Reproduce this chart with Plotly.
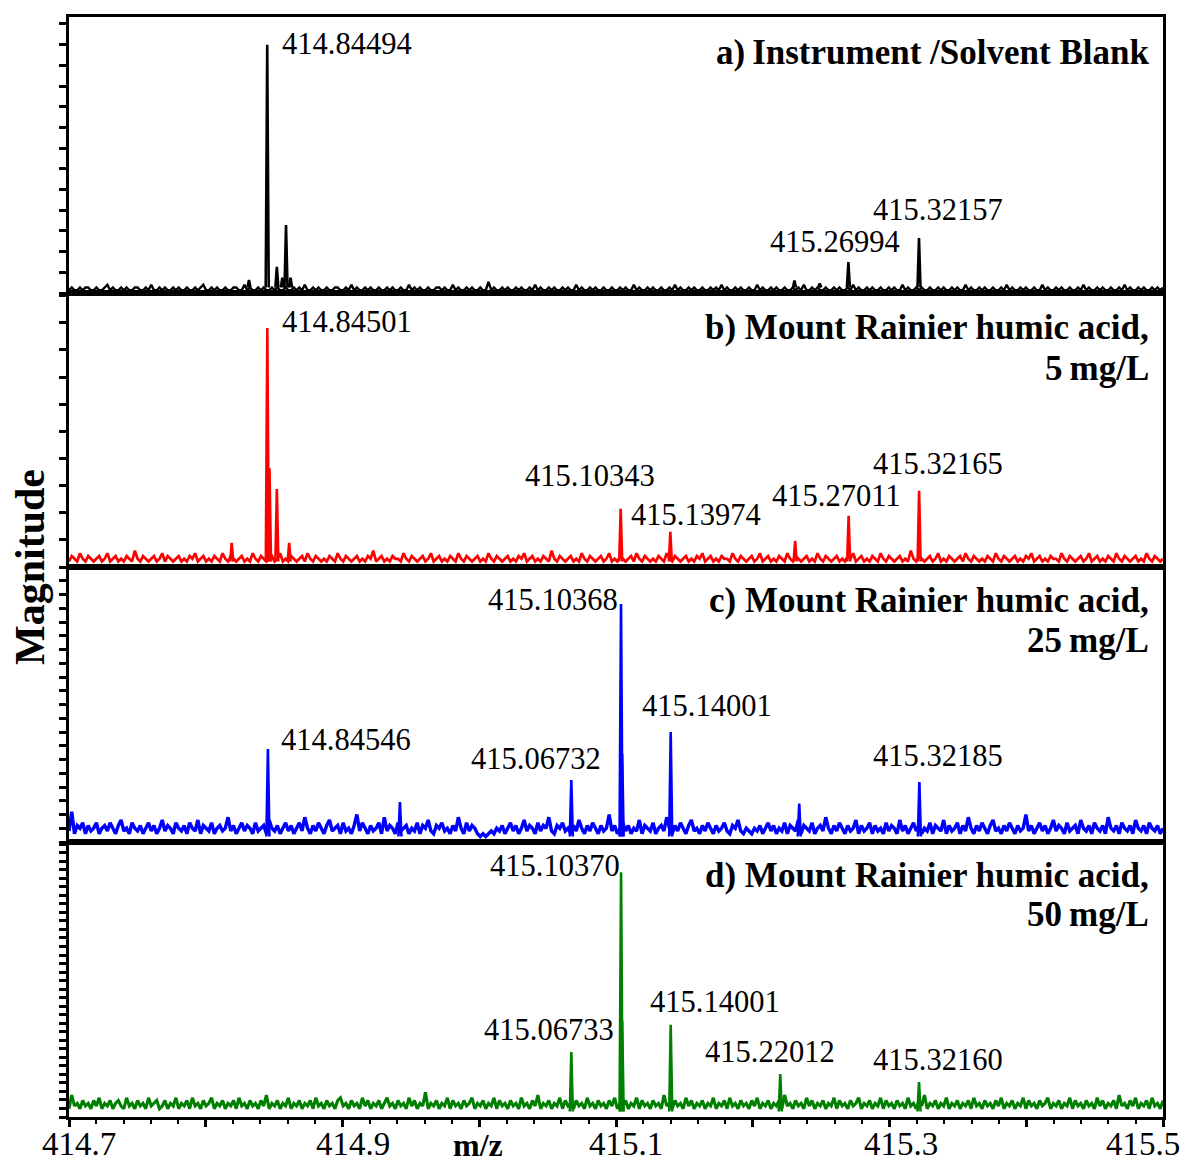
import plotly.graph_objects as go

# ---------------- data ----------------
mz_min, mz_max = 414.7, 415.5
xtick_vals = [414.7, 414.8, 414.9, 415.0, 415.1, 415.2, 415.3, 415.4, 415.5]
xlabel_vals = [414.7, 414.9, 415.1, 415.3, 415.5]
xlabel_text = ["414.7", "414.9", "415.1", "415.3", "415.5"]

panel_titles = [
    ["a)\u2009Instrument /Solvent Blank"],
    ["b) Mount Rainier humic acid,", "5\u2009mg/L"],
    ["c) Mount Rainier humic acid,", "25\u2009mg/L"],
    ["d) Mount Rainier humic acid,", "50\u2009mg/L"],
]

# peaks (m/z, relative magnitude in % of panel height)
a_peak_mz = [414.8316, 414.84494, 414.8520, 414.8560, 414.8587, 414.8620, 415.2305, 415.2490, 415.26994, 415.32157]
a_peak_h = [4.7, 89.9, 9.5, 5.5, 24.6, 5.5, 4.5, 3.5, 11.2, 19.9]
b_peak_mz = [414.8190, 414.84501, 414.8466, 414.8520, 414.8610, 415.10343, 415.13974, 415.2310, 415.27011, 415.32165]
b_peak_h = [8.8, 87.2, 36.0, 28.5, 8.8, 21.2, 12.8, 9.5, 18.7, 27.8]
c_peak_mz = [414.84546, 414.9420, 415.06732, 415.10368, 415.1045, 415.14001, 415.2340, 415.32185]
c_peak_h = [33.8, 14.5, 22.5, 86.5, 32.0, 40.0, 14.0, 21.8]
d_peak_mz = [415.06733, 415.10370, 415.1045, 415.14001, 415.22012, 415.32160]
d_peak_h = [23.6, 89.0, 35.0, 33.5, 15.6, 12.7]

# baseline noise read across the m/z window (% of panel height)
a_noise = [1,2,1,1,2,1,2,2,1,1,2,1,1,2,3,1,2,1,1,2,1,2,1,1,2,2,1,1,2,1,3,1,1,2,1,2,1,1,2,1,
           2,1,1,2,1,1,2,1,2,3,1,1,2,1,2,1,1,2,1,1,2,2,1,1,3,1,2,1,1,2,1,2,1,1,2,1,2,1,1,2,
           1,1,2,1,2,1,3,1,1,2,1,2,1,1,2,1,1,2,2,1,1,2,1,3,1,2,1,1,2,1,2,1,1,2,1,1,2,1,2,1,
           1,2,1,1,3,1,2,1,2,1,1,2,1,1,2,2,1,2,1,1,3,1,2,1,1,2,1,2,1,1,2,1,1,4,1,2,1,1,2,1,
           2,1,1,2,1,2,1,1,2,1,3,1,2,1,1,2,1,2,1,1,2,1,2,1,1,3,1,2,1,1,2,1,2,1,1,2,1,1,2,1,
           1,2,1,2,1,1,3,1,2,1,1,2,1,2,1,1,2,1,1,2,1,3,1,2,1,1,2,1,2,1,1,2,1,1,2,1,2,1,3,1,
           2,1,1,2,1,2,1,1,2,1,1,3,1,2,1,1,2,1,2,1,1,2,1,1,2,1,2,1,3,1,1,2,1,2,1,1,2,1,1,2,
           1,2,1,1,2,1,3,1,2,1,1,2,1,2,1,1,2,1,1,2,1,2,1,1,3,1,2,1,1,2,1,2,1,1,2,1,1,2,1,2,
           1,1,2,1,2,1,1,3,1,2,1,1,2,1,2,1,1,2,1,1,2,1,3,1,2,1,1,2,1,2,1,1,2,1,1,3,1,2,1,1,
           2,1,2,1,1,2,1,1,2,1,3,1,2,1,1,2,1,2,1,1,2,1,1,2,1,3,1,2,1,1,2,1,2,1,1,2,1,2,1,2]
b_noise = [2,4,3,2,5,3,2,4,3,2,3,4,2,3,5,2,3,4,2,3,2,4,3,2,6,3,2,4,3,2,3,4,2,3,5,2,4,3,2,3,
           4,2,3,2,4,3,5,2,3,4,2,3,2,4,3,2,5,3,2,4,3,2,3,4,2,3,2,5,3,2,4,3,2,3,4,2,3,5,2,3,
           2,4,3,2,3,4,2,5,3,2,4,3,2,3,2,4,3,2,5,3,2,4,3,2,3,4,2,3,2,4,3,6,2,3,4,2,3,2,4,3,
           3,2,5,3,2,4,3,2,3,4,2,3,5,2,3,4,2,3,2,4,3,2,5,3,2,4,3,2,3,4,2,3,2,5,3,2,4,3,2,3,
           4,2,3,2,4,3,5,2,3,4,2,3,2,4,3,2,6,3,2,4,3,2,3,4,2,3,2,5,3,2,4,3,2,3,4,2,3,5,2,3,
           2,4,3,2,3,4,2,5,3,2,4,3,2,3,2,4,3,2,5,3,2,4,3,2,3,4,2,3,2,4,3,5,2,3,4,2,3,2,4,3,
           3,2,5,3,2,4,3,2,3,4,2,3,5,2,3,4,2,3,2,4,3,2,5,3,2,4,3,2,3,4,2,3,2,5,3,2,4,3,2,3,
           4,2,3,2,4,3,5,2,3,4,2,3,2,4,3,2,5,3,2,4,3,2,3,4,2,3,2,6,3,2,4,3,2,3,4,2,3,5,2,3,
           2,4,3,2,3,4,2,5,3,2,4,3,2,3,2,4,3,2,5,3,2,4,3,2,3,4,2,3,2,4,3,5,2,3,4,2,3,2,4,3,
           3,2,5,3,2,4,3,2,3,4,2,3,5,2,3,4,2,3,2,4,3,2,5,3,2,4,3,2,3,4,2,3,2,5,3,2,4,3,2,3]
c_noise = [4,11,3,6,5,7,3,6,4,5,7,3,5,6,4,7,5,3,6,8,4,5,3,7,5,4,6,3,5,7,4,6,3,5,8,4,6,5,3,7,
           5,4,6,3,7,5,4,8,3,6,5,4,7,3,5,6,4,5,9,4,6,3,5,7,4,6,5,3,7,4,5,6,3,8,5,4,6,3,5,7,
           4,6,3,5,7,4,9,5,3,6,4,7,5,3,6,8,4,5,6,3,7,4,5,3,6,10,4,7,5,3,6,4,5,7,3,9,4,6,5,3,
           7,4,5,6,3,5,4,7,3,6,5,8,4,3,6,5,7,4,5,3,6,4,9,5,3,7,4,6,5,3,2,3,2,3,4,3,5,4,6,3,
           5,7,4,6,3,5,8,4,6,5,3,7,4,6,5,9,4,3,6,5,7,4,5,3,6,4,8,5,3,6,4,7,5,3,6,4,5,10,4,6,
           3,5,7,4,6,3,5,4,8,3,6,5,4,7,3,5,6,4,9,5,3,6,4,7,5,3,6,8,4,5,3,6,4,7,5,3,6,4,5,7,
           4,3,6,5,8,4,3,5,4,3,5,4,6,3,5,7,4,6,3,5,4,7,3,6,5,4,8,3,6,5,4,7,3,5,6,4,9,5,3,6,
           4,7,5,3,6,4,5,8,3,6,4,5,7,3,6,4,5,3,7,4,6,5,3,8,4,6,3,5,7,4,6,3,5,4,7,3,6,5,4,8,
           3,6,4,5,7,3,6,4,9,5,3,6,4,7,5,3,6,8,4,5,3,6,4,7,5,3,6,4,5,10,4,6,3,5,7,4,6,3,5,8,
           4,6,5,3,7,4,5,6,3,8,5,4,6,3,7,5,4,6,3,9,5,4,6,3,7,5,4,6,3,8,5,4,6,3,7,5,4,6,3,5]
d_noise = [3,8,4,5,3,6,4,5,3,6,4,7,3,5,4,6,3,5,6,4,3,7,4,5,3,6,4,5,3,7,4,5,6,3,4,6,3,5,4,7,
           3,5,4,6,3,7,4,5,3,6,4,5,7,3,5,4,6,3,5,4,6,3,7,4,5,3,6,4,5,3,6,4,8,3,5,4,6,3,5,4,
           7,3,5,4,6,3,5,4,6,3,7,4,5,3,6,4,5,3,6,7,4,5,3,6,4,5,3,7,4,6,3,5,4,6,3,5,7,4,5,3,
           6,4,5,3,7,4,6,3,5,4,9,3,5,4,6,3,5,4,7,3,6,4,5,3,6,4,5,7,3,5,4,6,3,5,4,7,3,6,4,5,
           3,6,4,5,3,7,4,5,3,6,4,8,3,5,4,6,3,5,4,7,3,6,4,5,3,6,4,5,3,7,4,5,3,6,4,5,3,6,4,7,
           3,5,4,6,3,5,4,7,3,6,4,5,3,6,4,5,3,8,4,5,3,6,4,5,3,7,4,6,3,5,4,6,3,5,4,7,3,5,4,6,
           3,7,4,5,3,6,4,5,3,6,4,7,3,5,4,6,3,5,4,6,3,8,4,5,3,6,4,5,3,7,4,6,3,5,4,6,3,5,4,7,
           3,6,4,5,3,6,4,5,7,3,5,4,6,3,5,4,7,3,6,4,5,3,6,4,5,3,7,4,5,3,6,4,8,3,5,4,6,3,5,4,
           7,3,5,4,6,3,5,4,6,3,7,4,5,3,6,4,5,3,6,4,7,3,5,4,6,3,5,4,7,3,6,4,5,3,6,4,5,7,3,5,
           4,6,3,5,4,7,3,6,4,5,3,6,4,5,3,7,4,6,3,5,4,6,3,8,4,5,3,6,4,7,3,5,4,6,3,7,4,5,3,6]

# labelled peaks per panel
a_labels = ["414.84494", "415.26994", "415.32157"]
b_labels = ["414.84501", "415.10343", "415.13974", "415.27011", "415.32165"]
c_labels = ["415.10368", "414.84546", "415.06732", "415.14001", "415.32185"]
d_labels = ["415.10370", "415.06733", "415.14001", "415.22012", "415.32160"]

# ---------------- layout helpers ----------------
OFF = 8  # default page body margin
W, H = 1190 - 2 * OFF, 1172 - 2 * OFF
L, R, T, B = 69, 1163, 17, 1117  # plot area in page pixels
bounds = [17, 293, 567, 842, 1117]


def pxx(px):
    return (px - L) / (R - L)


def pxy(py):
    return (B - py) / (B - T)


colors = ["#000000", "#ff0000", "#0000ff", "#008000"]
peaks = [(a_peak_mz, a_peak_h), (b_peak_mz, b_peak_h), (c_peak_mz, c_peak_h), (d_peak_mz, d_peak_h)]
noises = [a_noise, b_noise, c_noise, d_noise]
labels = [a_labels, b_labels, c_labels, d_labels]
noise_w = [2.4, 2.7, 3.4, 3.1]
# label placement: (left px, centre y px)
label_pos = [
    [(280, 44), (768, 242), (871, 210)],
    [(280, 322), (523, 476), (629, 515), (770, 496), (871, 464)],
    [(486, 600), (279, 740), (469, 759), (640, 706), (871, 756)],
    [(488, 866), (482, 1030), (648, 1002), (703, 1052), (871, 1060)],
]
title_y = [[53], [327, 368], [600, 640], [875, 914]]
ydticks = [7.5, 9.9, 5.0, 3.1]
xlabel_shift = [10, 10, 10, 11, -20]

fig = go.Figure()
for k in range(4):
    n = len(noises[k])
    xs = [mz_min + (mz_max - mz_min) * i / (n - 1) for i in range(n)]
    ax = "" if k == 0 else str(k + 1)
    fig.add_trace(go.Scatter(x=xs, y=noises[k], mode="lines",
                             line=dict(color=colors[k], width=noise_w[k]),
                             xaxis="x" + ax, yaxis="y" + ax, showlegend=False, hoverinfo="skip"))
    px_, ph_ = [], []
    w = 0.0011
    for m, h in zip(*peaks[k]):
        px_ += [m - w, m, m + w, None]
        ph_ += [2, h, 2, None]
    fig.add_trace(go.Scatter(x=px_, y=ph_, mode="lines",
                             line=dict(color=colors[k], width=2.6),
                             xaxis="x" + ax, yaxis="y" + ax, showlegend=False, hoverinfo="skip"))

layout = dict(width=W, height=H,
              margin=dict(l=L - OFF, r=W - (R - OFF), t=T - OFF, b=H - (B - OFF), autoexpand=False),
              plot_bgcolor="white", paper_bgcolor="white",
              font=dict(family="Liberation Serif", color="black"))

for k in range(4):
    ax = "" if k == 0 else str(k + 1)
    dom = [pxy(bounds[k + 1]), pxy(bounds[k])]
    xa = dict(range=[mz_min, mz_max], domain=[0, 1], anchor="y" + ax,
              showline=True, mirror=True, linewidth=3, linecolor="black",
              showgrid=False, zeroline=False, showticklabels=False)
    if k == 3:
        xa.update(ticks="outside", ticklen=7, tickwidth=2.5, tickcolor="black",
                  tickvals=xtick_vals,
                  minor=dict(dtick=0.02, tick0=414.7, ticks="outside", ticklen=4,
                             tickwidth=2, tickcolor="black"))
    else:
        xa.update(ticks="")
    layout["xaxis" + ax] = xa
    layout["yaxis" + ax] = dict(range=[0, 100], domain=dom, anchor="x" + ax,
                                showline=True, mirror=True, linewidth=3, linecolor="black",
                                ticks="outside", ticklen=7, tickwidth=2.5, tickcolor="black",
                                tick0=0, dtick=ydticks[k], showticklabels=False,
                                showgrid=False, zeroline=False)
fig.update_layout(**layout)

ann = []
for k in range(4):
    for txt, (lx, ly) in zip(labels[k], label_pos[k]):
        ann.append(dict(xref="paper", yref="paper", x=pxx(lx), y=pxy(ly), text=txt,
                        showarrow=False, xanchor="left", yanchor="middle",
                        font=dict(size=30.5, family="Liberation Serif", color="black")))
    for txt, ty in zip(panel_titles[k], title_y[k]):
        ann.append(dict(xref="paper", yref="paper", x=pxx(1151), y=pxy(ty), text="<b>" + txt + "</b>",
                        showarrow=False, xanchor="right", yanchor="middle",
                        font=dict(size=35, family="Liberation Serif", color="black")))
for v, t, s in zip(xlabel_vals, xlabel_text, xlabel_shift):
    ann.append(dict(xref="x4", yref="paper", x=v, y=pxy(1144), text=t, xshift=s,
                    showarrow=False, xanchor="center", yanchor="middle",
                    font=dict(size=33, family="Liberation Serif", color="black")))
ann.append(dict(xref="paper", yref="paper", x=pxx(30), y=pxy(567), text="<b>Magnitude</b>",
                textangle=-90, showarrow=False, xanchor="center", yanchor="middle",
                font=dict(size=42, family="Liberation Serif", color="black")))
ann.append(dict(xref="paper", yref="paper", x=pxx(478), y=pxy(1145), text="<b>m/z</b>",
                showarrow=False, xanchor="center", yanchor="middle",
                font=dict(size=32, family="Liberation Serif", color="black")))
fig.update_layout(annotations=ann)

fig.write_html("out.html")
